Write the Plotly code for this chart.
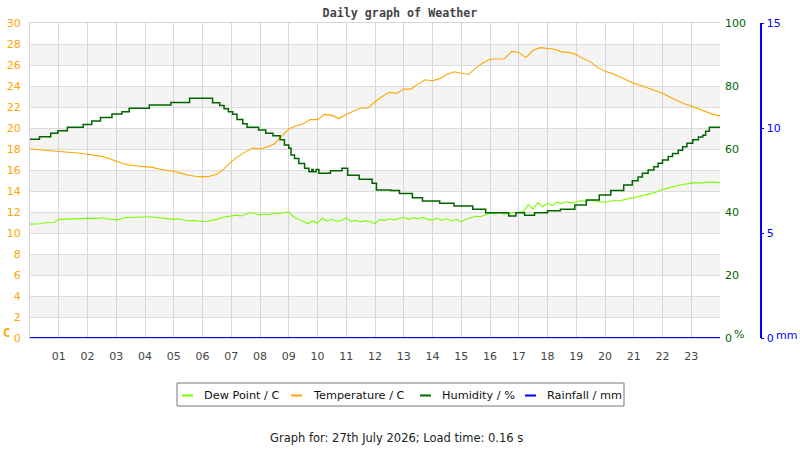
import plotly.graph_objects as go

# Daily weather graph: temperature / dew point on the left axis (C),
# humidity on the first right axis (%), rainfall on the outer right axis (mm)

HOUR_TICKS = list(range(1, 24))
HOUR_LABELS = ["%02d" % h for h in HOUR_TICKS]

# temperature, one reading every 15 minutes (hours 0 .. 24)
TEMP_HOURS = [i * 0.25 for i in range(97)]
TEMP_C = [
    18.0, 17.95, 17.9, 17.85, 17.8, 17.75, 17.7, 17.6,
    17.5, 17.4, 17.3, 17.1, 16.85, 16.6, 16.45, 16.4,
    16.3, 16.25, 16.1, 16.0, 15.85, 15.7, 15.5, 15.4,
    15.35, 15.4, 15.6, 16.1, 16.8, 17.3, 17.75, 18.1,
    18.0, 18.2, 18.5, 19.2, 19.9, 20.2, 20.4, 20.8,
    20.8, 21.3, 21.2, 20.9, 21.3, 21.6, 21.9, 21.9,
    22.5, 23.0, 23.4, 23.3, 23.7, 23.7, 24.2, 24.6,
    24.5, 24.7, 25.1, 25.35, 25.2, 25.1, 25.7, 26.2,
    26.55, 26.6, 26.6, 27.3, 27.2, 26.7, 27.4, 27.65,
    27.55, 27.5, 27.25, 27.2, 27.0, 26.6, 26.3, 25.75,
    25.4, 25.2, 24.9, 24.55, 24.25, 24.05, 23.8, 23.5,
    23.3, 22.95, 22.6, 22.3, 22.1, 21.85, 21.55, 21.3,
    21.15,
]

# dew point, one reading every 10 minutes (hours 0 .. 24)
DEW_HOURS = [i / 6 for i in range(145)]
DEW_C = [
    10.85, 10.86, 10.88, 10.98, 11.02, 11.0,
    11.3, 11.32, 11.3, 11.36, 11.33, 11.38,
    11.35, 11.42, 11.38, 11.45, 11.36, 11.3,
    11.25, 11.32, 11.5, 11.48, 11.5, 11.47,
    11.5, 11.55, 11.5, 11.45, 11.42, 11.35,
    11.3, 11.36, 11.28, 11.15, 11.2, 11.12,
    11.1, 11.12, 11.2, 11.3, 11.48, 11.55,
    11.65, 11.7, 11.62, 11.8, 11.95, 11.85,
    11.7, 11.82, 11.75, 11.9, 11.82, 11.95,
    12.0, 11.55, 11.3, 11.1, 10.9, 11.15,
    10.95, 11.4, 11.15, 11.3, 11.1, 11.2,
    11.45, 11.1, 11.2, 11.05, 11.15, 11.1,
    10.9, 11.3, 11.2, 11.35, 11.25, 11.4,
    11.5, 11.3, 11.45, 11.35, 11.5, 11.3,
    11.25, 11.4, 11.2, 11.35, 11.15, 11.3,
    11.05, 11.3, 11.45, 11.6, 11.55, 11.75,
    11.9, 11.85, 11.95, 11.8, 11.9, 11.95,
    11.95, 12.05, 12.7, 12.3, 12.9, 12.5,
    12.85, 12.6, 12.95, 12.8, 13.0, 12.85,
    12.95, 13.1, 13.0, 13.15, 13.05, 12.95,
    12.95, 13.0, 13.1, 13.05, 13.2, 13.3,
    13.35, 13.45, 13.6, 13.7, 13.8, 13.95,
    14.15, 14.25, 14.4, 14.5, 14.6, 14.7,
    14.75, 14.8, 14.75, 14.85, 14.8, 14.82,
    14.8,
]

# humidity only changes in whole steps: time of each change and new value
HUM_HOURS = [
    0.0, 0.33, 0.72, 0.97, 1.3, 1.85, 2.15, 2.45, 2.85, 3.2,
    3.45, 4.15, 4.9, 5.55, 6.35, 6.6, 6.75, 6.9, 7.05, 7.2,
    7.4, 7.55, 7.95, 8.2, 8.45, 8.7, 8.85, 9.0, 9.08, 9.2,
    9.35, 9.55, 9.7, 9.8, 9.85, 9.95, 10.05, 10.45, 10.85, 11.05,
    11.45, 11.9, 12.05, 12.55, 12.85, 13.3, 13.65, 14.25, 14.75, 15.4,
    15.85, 16.65, 16.9, 17.2, 17.55, 18.0, 18.45, 18.95, 19.35, 19.8,
    20.2, 20.65, 20.95, 21.15, 21.3, 21.5, 21.7, 21.85, 22.0, 22.2,
    22.35, 22.55, 22.7, 22.85, 23.05, 23.25, 23.4, 23.5, 23.63, 24.0,
]
HUM_PCT = [
    63.1, 63.9, 65.0, 65.8, 66.9, 67.8, 68.9, 70.0, 71.1, 71.8,
    72.9, 74.0, 74.8, 76.1, 74.7, 73.8, 72.8, 71.8, 71.0, 69.4,
    68.0, 66.9, 66.0, 65.0, 64.2, 62.9, 61.3, 60.2, 58.1, 57.0,
    55.4, 53.9, 52.8, 53.5, 52.8, 53.5, 52.3, 53.1, 53.9, 51.7,
    50.4, 49.1, 47.0, 46.8, 45.9, 44.5, 43.5, 42.8, 41.9, 40.9,
    39.8, 38.7, 39.8, 39.0, 39.8, 40.4, 40.9, 42.2, 43.8, 45.4,
    46.8, 48.6, 49.9, 51.1, 52.3, 53.3, 54.4, 55.5, 56.5, 57.6,
    58.6, 59.6, 60.7, 61.8, 62.9, 63.8, 64.4, 65.6, 66.9, 66.9,
]

# rainfall, hourly totals (no rain all day)
RAIN_HOURS = list(range(25))
RAIN_MM = [0.0, 0.0, 0.0, 0.0, 0.0, 0.0, 0.0, 0.0, 0.0, 0.0, 0.0, 0.0, 0.0,
           0.0, 0.0, 0.0, 0.0, 0.0, 0.0, 0.0, 0.0, 0.0, 0.0, 0.0, 0.0]

SERIES_NAMES = ["Dew Point / C", "Temperature / C", "Humidity / %", "Rainfall / mm"]

COLORS = {
    "Dew Point / C": "#7cfc00",
    "Temperature / C": "#ffa500",
    "Humidity / %": "#006400",
    "Rainfall / mm": "#0000ff",
    "grid": "#d6d6d6",
    "band": "#f4f4f4",
    "text": "#444444",
}
FONT = "DejaVu Sans"

# page layout in pixels: plot box spans x 30..720, y 23..338
L, T, W, H = 30, 23, 750, 315


def px(x):
    return (x - L) / W


def py(y):
    return (T + H - y) / H


fig = go.Figure()

fig.add_trace(go.Scatter(
    x=TEMP_HOURS, y=TEMP_C, mode="lines", yaxis="y", name=SERIES_NAMES[1],
    line=dict(color=COLORS[SERIES_NAMES[1]], width=1.1), showlegend=False,
))
fig.add_trace(go.Scatter(
    x=DEW_HOURS, y=DEW_C, mode="lines", yaxis="y", name=SERIES_NAMES[0],
    line=dict(color=COLORS[SERIES_NAMES[0]], width=1.1), showlegend=False,
))
fig.add_trace(go.Scatter(
    x=HUM_HOURS, y=HUM_PCT, mode="lines", yaxis="y2", name=SERIES_NAMES[2],
    line=dict(color=COLORS[SERIES_NAMES[2]], width=1.5, shape="hv"), showlegend=False,
))
fig.add_trace(go.Scatter(
    x=RAIN_HOURS, y=RAIN_MM, mode="lines", yaxis="y3", name=SERIES_NAMES[3],
    line=dict(color=COLORS[SERIES_NAMES[3]], width=2), showlegend=False, cliponaxis=False,
))

# alternating light bands every 2 C
for lo in range(2, 30, 4):
    fig.add_hrect(y0=lo, y1=lo + 2, fillcolor=COLORS["band"], line_width=0,
                  layer="below")

# legend box below the plot, drawn by hand to get the compact spacing
LEGEND_BOX = (177, 383, 624, 406)
LEGEND_SYMBOL_X = [182, 291, 420, 525]
LEGEND_MID_Y = 395.5
fig.add_shape(type="rect", xref="paper", yref="paper",
              x0=px(LEGEND_BOX[0]), x1=px(LEGEND_BOX[2]),
              y0=py(LEGEND_BOX[3]), y1=py(LEGEND_BOX[1]),
              line=dict(color="#777777", width=1), fillcolor="white")
for name, sx in zip(SERIES_NAMES, LEGEND_SYMBOL_X):
    fig.add_shape(type="line", xref="paper", yref="paper",
                  x0=px(sx), x1=px(sx + 11), y0=py(LEGEND_MID_Y), y1=py(LEGEND_MID_Y),
                  line=dict(color=COLORS[name], width=2))
    fig.add_annotation(text=name, xref="paper", yref="paper",
                       x=px(sx + 20), y=py(LEGEND_MID_Y), xanchor="left", yanchor="middle",
                       showarrow=False, font=dict(family=FONT, size=11.3, color="#111111"))

labels = [
    ("<b>C</b>", 6, 333, "DejaVu Sans Mono", 12, COLORS["Temperature / C"]),
    ("%", 739, 334, FONT, 11, COLORS["Humidity / %"]),
    ("mm", 786, 335, FONT, 11, COLORS["Rainfall / mm"]),
    ("Graph for: 27th July 2026; Load time: 0.16 s", 396, 438, FONT, 11.5, "#222222"),
]
for text, x, y, fam, size, color in labels:
    fig.add_annotation(text=text, xref="paper", yref="paper", x=px(x), y=py(y),
                       xanchor="center", yanchor="middle", showarrow=False,
                       font=dict(family=fam, size=size, color=color))

fig.update_layout(
    width=800, height=450,
    margin=dict(l=L, r=800 - L - W, t=T, b=450 - T - H, autoexpand=False),
    paper_bgcolor="white", plot_bgcolor="white",
    font=dict(family=FONT, size=11, color=COLORS["text"]),
    showlegend=False,
    title=dict(text="<b>Daily graph of Weather</b>", xref="paper", x=px(400),
               xanchor="center", yref="container", y=1 - 13 / 450, yanchor="middle",
               font=dict(family="DejaVu Sans Mono", size=11.7, color=COLORS["text"])),
    xaxis=dict(
        domain=[0, px(720)], range=[0, 24],
        tickvals=HOUR_TICKS, ticktext=HOUR_LABELS,
        showgrid=True, gridcolor=COLORS["grid"], gridwidth=1,
        showline=True, linecolor=COLORS["grid"], mirror=True,
        ticks="", ticklabelstandoff=8, zeroline=False, automargin=False,
        tickfont=dict(color=COLORS["text"], size=11),
    ),
    yaxis=dict(
        range=[0, 30], dtick=2, tick0=0,
        showgrid=True, gridcolor="#dddddd", zeroline=False,
        showline=True, linecolor=COLORS["grid"], automargin=False,
        ticks="", ticklabelstandoff=6,
        tickfont=dict(color=COLORS["Temperature / C"], size=11),
    ),
    yaxis2=dict(
        range=[0, 100], dtick=20, overlaying="y", side="right", anchor="x",
        showgrid=False, zeroline=False, ticks="", ticklabelstandoff=4,
        automargin=False, tickfont=dict(color=COLORS["Humidity / %"], size=11),
    ),
    yaxis3=dict(
        range=[0, 15], dtick=5, overlaying="y", side="right", anchor="free",
        position=px(760.7), showgrid=False, zeroline=False, automargin=False,
        showline=True, linecolor=COLORS["Rainfall / mm"], linewidth=1.5,
        ticks="outside", ticklen=3, tickcolor=COLORS["Rainfall / mm"],
        tickfont=dict(color=COLORS["Rainfall / mm"], size=11),
    ),
)

# page body has a default 8px margin; drop it so the figure sits at the top-left
fig.write_html("out.html", config={"displayModeBar": False},
               post_script="document.body.style.margin='0';document.body.style.overflow='hidden';")
